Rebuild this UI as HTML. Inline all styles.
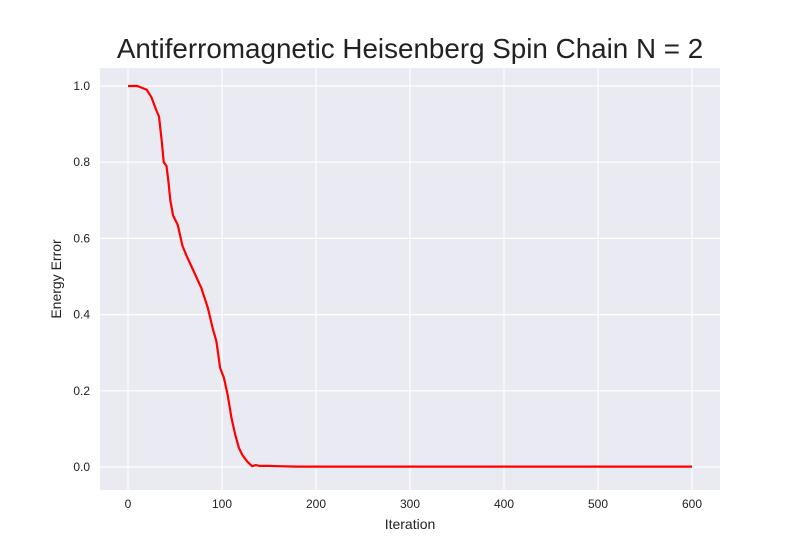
<!DOCTYPE html>
<html><head><meta charset="utf-8"><style>
body{margin:0;background:#fff;font-family:"Liberation Sans",sans-serif}
</style></head><body>
<svg width="800" height="550" xmlns="http://www.w3.org/2000/svg" id="svg">
<text x="410" y="58" font-size="27.8" text-anchor="middle" fill="#222" font-family="Liberation Sans, sans-serif">Antiferromagnetic Heisenberg Spin Chain N = 2</text>
<rect x="100" y="68" width="620" height="422" fill="#EAEAF2"/>
<g id="grid"></g><g id="ticks"></g>
<text x="410" y="529" font-size="14" text-anchor="middle" fill="#222">Iteration</text>
<text transform="translate(61,279) rotate(-90)" font-size="14" text-anchor="middle" fill="#222">Energy Error</text>
<path id="line" fill="none" stroke="#ff0000" stroke-width="2.2" stroke-linejoin="round"/>
</svg>
<script>
const iterations=[0,10,15,20,25,30,33,36,38,41,43,45,48,53,58,62,70,78,85,90,94,98,102,106,110,114,118,122,127,132,136,140,150,160,180,200,300,400,500,600];
const errors=[1.0,1.0,0.995,0.99,0.97,0.937,0.92,0.854,0.8,0.79,0.75,0.70,0.66,0.635,0.58,0.556,0.513,0.47,0.417,0.365,0.33,0.26,0.234,0.19,0.13,0.085,0.05,0.03,0.014,0.002,0.005,0.003,0.003,0.002,0.001,0.001,0.001,0.001,0.001,0.001];
const xTicks=[0,100,200,300,400,500,600];
const yTicks=[0.0,0.2,0.4,0.6,0.8,1.0];
const sx=v=>128+v*0.94;
const sy=v=>467-v*381;
const ns="http://www.w3.org/2000/svg";
const grid=document.getElementById('grid'),ticks=document.getElementById('ticks');
xTicks.forEach(t=>{
  const l=document.createElementNS(ns,'line');
  l.setAttribute('x1',sx(t));l.setAttribute('x2',sx(t));l.setAttribute('y1',68);l.setAttribute('y2',490);
  l.setAttribute('stroke','#fff');l.setAttribute('stroke-width','1.2');
  
  
  grid.appendChild(l);
  const tx=document.createElementNS(ns,'text');
  tx.setAttribute('x',sx(t));tx.setAttribute('y',508);tx.setAttribute('font-size','12');tx.setAttribute('text-anchor','middle');tx.setAttribute('fill','#222');
  tx.textContent=t;
  
  
  ticks.appendChild(tx);
});
yTicks.forEach(t=>{
  const l=document.createElementNS(ns,'line');
  l.setAttribute('x1',100);l.setAttribute('x2',720);l.setAttribute('y1',sy(t));l.setAttribute('y2',sy(t));
  l.setAttribute('stroke','#fff');l.setAttribute('stroke-width','1.2');
  
  
  grid.appendChild(l);
  const tx=document.createElementNS(ns,'text');
  tx.setAttribute('x',90);tx.setAttribute('y',sy(t)+4);tx.setAttribute('font-size','12');tx.setAttribute('text-anchor','end');tx.setAttribute('fill','#222');
  tx.textContent=t.toFixed(1);
  
  
  ticks.appendChild(tx);
});
document.getElementById('line').setAttribute('d',iterations.map((v,i)=>(i?'L':'M')+sx(v).toFixed(1)+','+sy(errors[i]).toFixed(1)).join(''));
</script>
</body></html>
